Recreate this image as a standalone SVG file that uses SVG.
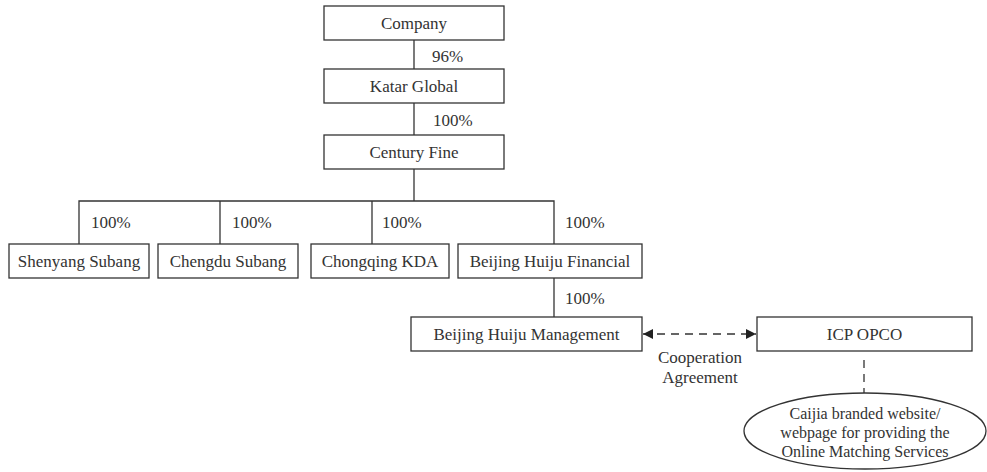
<svg xmlns="http://www.w3.org/2000/svg" width="987" height="472" viewBox="0 0 987 472">
<style>
.box{fill:#fff;stroke:#333;stroke-width:1.3}
.t{font-family:"Liberation Serif","DejaVu Serif",serif;font-size:17px;fill:#333;text-anchor:middle}
.p{font-family:"Liberation Serif","DejaVu Serif",serif;font-size:17px;fill:#333}
.e{font-family:"Liberation Serif","DejaVu Serif",serif;font-size:16px;fill:#333;text-anchor:middle}
.ln{stroke:#333;stroke-width:1.3;fill:none}
.dash{stroke:#333;stroke-width:1.3;fill:none;stroke-dasharray:8 6}
</style>
<defs>
<marker id="ah" viewBox="0 0 10 10" refX="10" refY="5" markerWidth="10" markerHeight="10" markerUnits="userSpaceOnUse" orient="auto-start-reverse">
<path d="M0,0 L10,5 L0,10 Z" fill="#222"/>
</marker>
</defs>
<rect width="987" height="472" fill="#fff"/>
<g id="connectors">
<line class="ln" x1="414" y1="40" x2="414" y2="69"/>
<line class="ln" x1="414" y1="103" x2="414" y2="135"/>
<line class="ln" x1="414" y1="169" x2="414" y2="201"/>
<polyline class="ln" points="79,244 79,201 554,201 554,244"/>
<line class="ln" x1="220" y1="201" x2="220" y2="244"/>
<line class="ln" x1="372" y1="201" x2="372" y2="244"/>
<line class="ln" x1="554" y1="278" x2="554" y2="317"/>
<line class="dash" x1="643" y1="334" x2="756" y2="334" marker-start="url(#ah)" marker-end="url(#ah)"/>
<line class="dash" x1="864" y1="360" x2="864" y2="393"/>
<text class="p" x="432" y="62">96%</text>
<text class="p" x="433" y="126">100%</text>
<text class="p" x="91" y="228">100%</text>
<text class="p" x="232" y="228">100%</text>
<text class="p" x="382" y="228">100%</text>
<text class="p" x="565" y="228">100%</text>
<text class="p" x="565" y="304">100%</text>
<text class="t" x="700" y="363">Cooperation</text>
<text class="t" x="700" y="383">Agreement</text>
</g>
<g id="company"><rect class="box" x="324" y="6" width="180" height="34"/><text class="t" x="414" y="29">Company</text></g>
<g id="katar"><rect class="box" x="324" y="69" width="180" height="34"/><text class="t" x="414" y="92">Katar Global</text></g>
<g id="century"><rect class="box" x="324" y="135" width="180" height="34"/><text class="t" x="414" y="158">Century Fine</text></g>
<g id="shenyang"><rect class="box" x="9" y="244" width="140" height="34"/><text class="t" x="79" y="267">Shenyang Subang</text></g>
<g id="chengdu"><rect class="box" x="158" y="244" width="140" height="34"/><text class="t" x="228" y="267">Chengdu Subang</text></g>
<g id="chongqing"><rect class="box" x="311" y="244" width="138" height="34"/><text class="t" x="380" y="267">Chongqing KDA</text></g>
<g id="bjfinancial"><rect class="box" x="458" y="244" width="184" height="34"/><text class="t" x="550" y="267">Beijing Huiju Financial</text></g>
<g id="bjmanagement"><rect class="box" x="411" y="317" width="231" height="34"/><text class="t" x="526.5" y="340">Beijing Huiju Management</text></g>
<g id="icpopco"><rect class="box" x="757" y="317" width="215" height="34"/><text class="t" x="864.5" y="340">ICP OPCO</text></g>
<g id="website"><ellipse class="box" cx="865" cy="431" rx="121" ry="38"/>
<text class="e" x="865" y="419">Caijia branded website/</text>
<text class="e" x="865" y="438">webpage for providing the</text>
<text class="e" x="865" y="457">Online Matching Services</text></g>
</svg>
